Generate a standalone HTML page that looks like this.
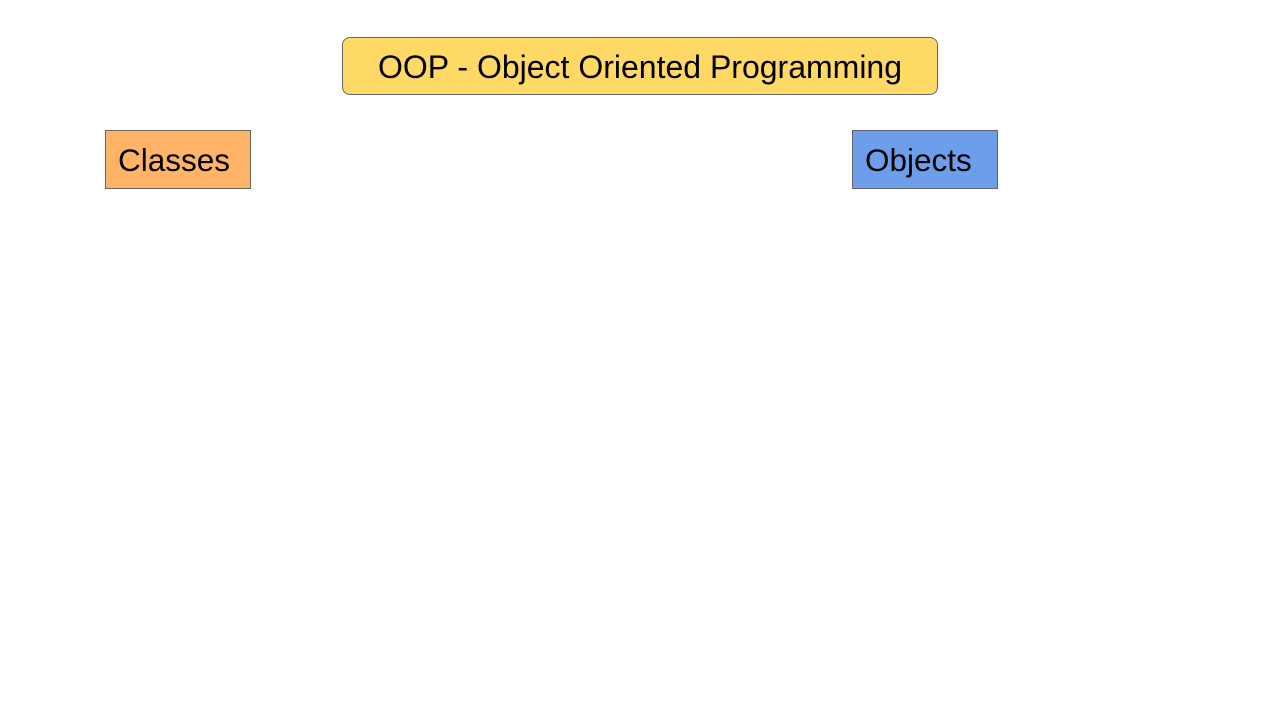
<!DOCTYPE html>
<html><head><style>
body{margin:0;width:1280px;height:720px;background:#fff;position:relative;overflow:hidden;font-family:"Liberation Sans",Arial,sans-serif;}
.b{position:absolute;box-sizing:border-box;border:1px solid #666;color:#000;}
</style></head><body>
<div class="b" style="left:342px;top:37px;width:596px;height:58px;background:#ffd966;border-radius:8px;font-size:32px;line-height:58px;text-align:center;">OOP - Object Oriented Programming</div>
<div class="b" style="left:105px;top:130px;width:146px;height:59px;background:#ffb366;font-size:31.5px;line-height:59px;padding-left:12px;">Classes</div>
<div class="b" style="left:852px;top:130px;width:146px;height:59px;background:#6d9eeb;font-size:31.5px;line-height:59px;padding-left:12px;">Objects</div>
</body></html>
